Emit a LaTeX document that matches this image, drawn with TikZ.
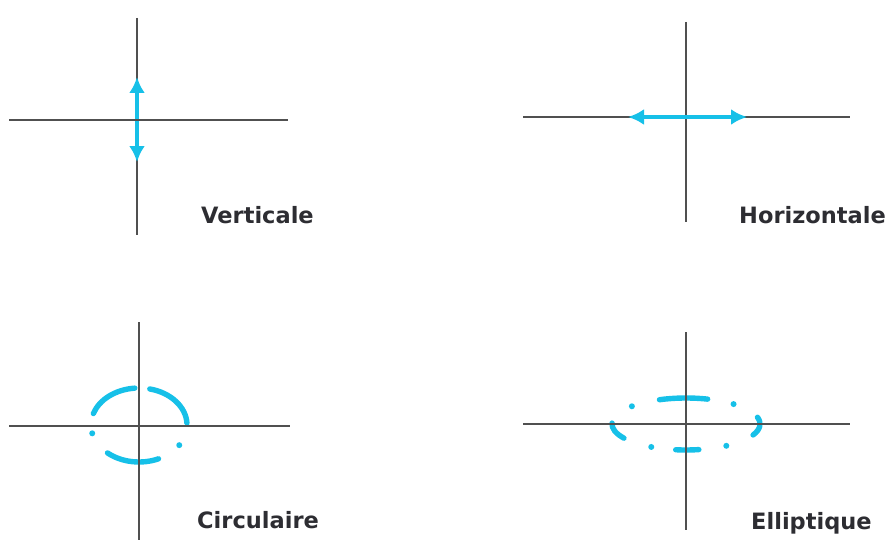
\documentclass[tikz,border=0pt]{standalone}
\usepackage{fontspec}
\setsansfont{DejaVu Sans}
\usepackage{tikz}
\usetikzlibrary{arrows.meta}

\definecolor{polblue}{RGB}{22,192,232}
\definecolor{axisgray}{RGB}{80,80,80}
\definecolor{labelgray}{RGB}{45,45,50}

\tikzset{
  axis/.style={axisgray, line width=2.6},
  wave/.style={polblue, line width=5.4, line cap=round},
  polarrow/.style={polblue, line width=4.6, {Latex[length=16,width=16]}-{Latex[length=16,width=16]}},
  caption/.style={labelgray, anchor=base west, inner sep=0pt,
    font=\sffamily\bfseries\fontsize{22.5}{26}\selectfont}
}

\begin{document}
\begin{tikzpicture}[x=1pt,y=1pt]
        \useasboundingbox (0,0) rectangle (885,542);
        % verticale
        \coordinate (vT) at (137,524);
        \coordinate (vB) at (137,307);
        \coordinate (vL) at (9,422);
        \coordinate (vR) at (288,422);
        \coordinate (vUp) at (137,465);
        \coordinate (vDn) at (137,380);
        \draw[axis] (vT) -- (vB);
        \draw[polarrow] (vUp) -- (vDn);
        \draw[axis] (vL) -- (vR);
        \node[caption] (vtext) at (201,319) {Verticale};
        % horizontale
        \coordinate (hT) at (686,520);
        \coordinate (hB) at (686,320);
        \coordinate (hL) at (523,425);
        \coordinate (hR) at (850,425);
        \coordinate (hW) at (628,425);
        \coordinate (hE) at (747,425);
        \draw[axis] (hL) -- (hR);
        \draw[axis] (hT) -- (hB);
        \draw[polarrow] (hW) -- (hE);
        \node[caption] (htext) at (739,319) {Horizontale};
        % circulaire
        \coordinate (cO) at (139,117);
        \foreach \a/\b in {95/162,3/77,229/294}
            \draw[wave] (cO) ++(\a:48 and 37) arc[start angle=\a, end angle=\b, x radius=48, y radius=37];
        \foreach \a in {193,327}
            \fill[polblue] (cO) ++(\a:48 and 37) circle[radius=3];
        \draw[axis] (139,220) -- (139,2);
        \draw[axis] (9,116) -- (290,116);
        \node[caption] (ctext) at (197,14) {Circulaire};
        % elliptique
        \coordinate (eO) at (686,118);
        \foreach \a/\b in {73/111,-25/15,262/280,178/213}
            \draw[wave] (eO) ++(\a:74 and 26) arc[start angle=\a, end angle=\b, x radius=74, y radius=26];
        \foreach \a in {50,137,-57,-118}
            \fill[polblue] (eO) ++(\a:74 and 26) circle[radius=3];
        \draw[axis] (686,210) -- (686,12);
        \draw[axis] (523,118) -- (850,118);
        \node[caption] (etext) at (751,13) {Elliptique};
    \end{tikzpicture}
\end{document}
